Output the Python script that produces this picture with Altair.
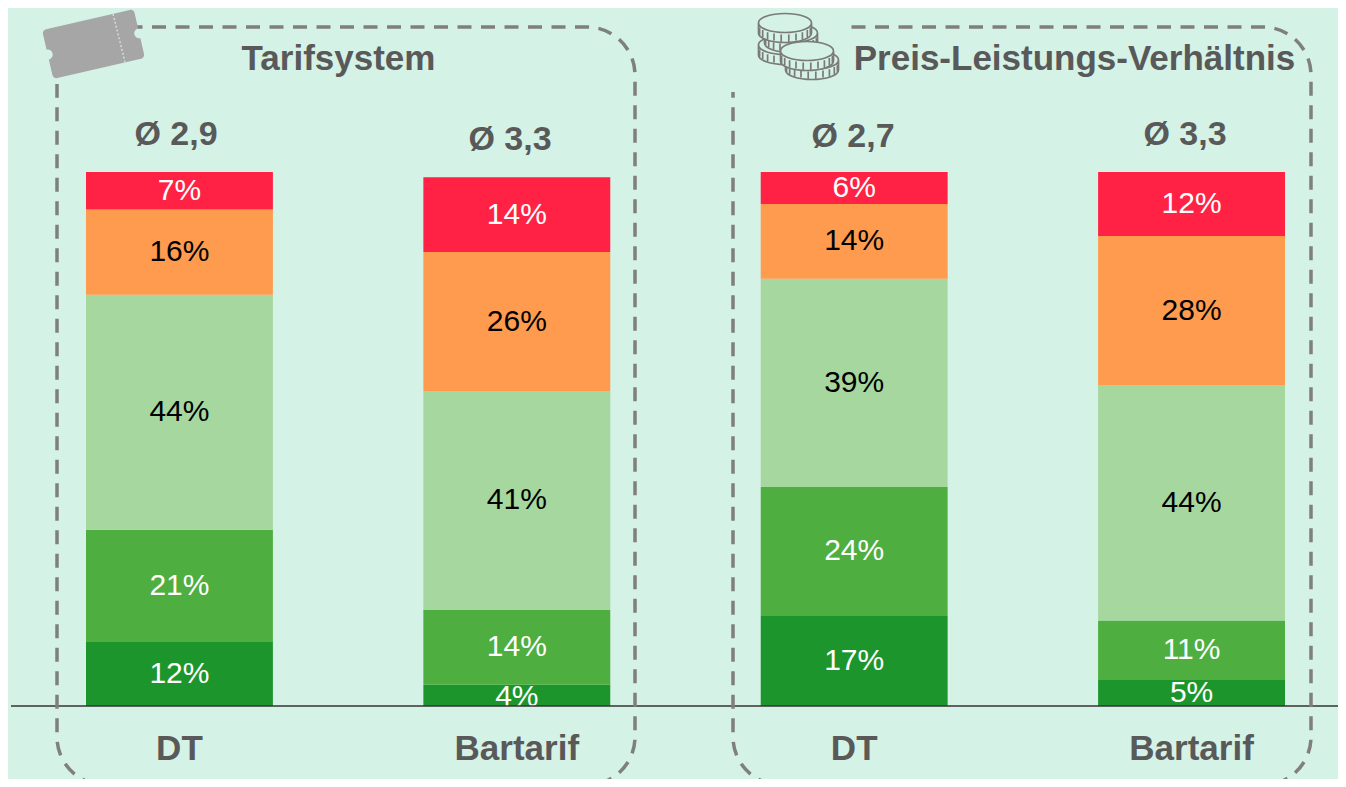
import math
import altair as alt
import pandas as pd

# ---- chart values
bars = ["Tarifsystem|DT", "Tarifsystem|Bartarif", "Preis-Leistung|DT", "Preis-Leistung|Bartarif"]
grades = ["g1", "g2", "g3", "g4", "g5"]
values_tarif_dt = [12, 21, 44, 16, 7]
values_tarif_bar = [4, 14, 41, 26, 14]
values_preis_dt = [17, 24, 39, 14, 6]
values_preis_bar = [5, 11, 44, 28, 12]
grade_colors = ["#1C962C", "#4EAE40", "#A6D79F", "#FF9B4E", "#FF2245"]
label_colors = ["white", "white", "black", "black", "white"]
averages = ["Ø 2,9", "Ø 3,3", "Ø 2,7", "Ø 3,3"]

BG = "#D5F2E6"
TXT = "#595959"
BOX = "#7F7F7F"
FONT = "Liberation Sans"


def px(v):
    return v - 8  # page pixel to chart pixel


rows = []
for bar, vals in zip(bars, [values_tarif_dt, values_tarif_bar, values_preis_dt, values_preis_bar]):
    base = 0
    for g, v, lc in zip(grades, vals, label_colors):
        # the label of a very thin segment sits a little low and is cut by the baseline
        mid = base + v * (0.4 if v < 5 else 0.5)
        rows.append(dict(bar=bar, grade=g, value=v, y0=base, y1=base + v, mid=mid,
                         label=f"{v}%", lc=lc))
        base += v
df = pd.DataFrame(rows)
one = pd.DataFrame({"a": [0]})

x_scale = alt.Scale(domain=bars, range=[px(86), px(1285)], paddingInner=0.446, paddingOuter=0)
y_scale = alt.Scale(domain=[0, 100], range=[px(706), px(172)])

bar_layer = alt.Chart(df).mark_bar().encode(
    x=alt.X("bar:N", scale=x_scale, sort=bars, title=None,
            axis=alt.Axis(domain=False, ticks=False, labelAngle=0, labelFont=FONT, labelFontSize=35,
                          labelFontWeight="bold", labelColor=TXT, labelPadding=25, zindex=1,
                          labelOverlap=False, labelExpr="split(datum.label,'|')[1]")),
    y=alt.Y("y0:Q", scale=y_scale, axis=None),
    y2="y1:Q",
    color=alt.Color("grade:N", scale=alt.Scale(domain=grades, range=grade_colors), legend=None),
)

text_layer = alt.Chart(df).mark_text(font=FONT, fontSize=30, baseline="middle", align="center").encode(
    x=alt.X("bar:N", scale=x_scale, sort=bars, title=None),
    y=alt.Y("mid:Q", scale=y_scale, axis=None),
    text="label:N",
    color=alt.Color("lc:N", scale=None),
)


def rect(x1, y1, x2, y2, **kw):
    return alt.Chart(one).mark_rect(**kw).encode(
        x=alt.value(px(x1)), x2=alt.value(px(x2)), y=alt.value(px(y1)), y2=alt.value(px(y2)))


def label(txt, x, y, size):
    return alt.Chart(one).mark_text(text=txt, font=FONT, fontSize=size, fontWeight="bold", color=TXT,
                                    align="center", baseline="middle").encode(
        x=alt.value(px(x)), y=alt.value(px(y)))


def symbol(path, x, y, fill, stroke=None, width=0, angle=0):
    kw = dict(shape=path, size=4, filled=True, fill=fill, opacity=1, angle=angle)
    if stroke:
        kw.update(stroke=stroke, strokeWidth=width)
    else:
        kw.update(strokeWidth=0)
    return alt.Chart(one).mark_point(**kw).encode(x=alt.value(px(x)), y=alt.value(px(y)))


# ticket icon
L, H, R, N = 47, 25, 4, 5
ticket = (f"M{-L+R},{-H} L{L-R},{-H} A{R},{R} 0 0 1 {L},{-H+R} L{L},{-N} A{N},{N} 0 0 0 {L},{N} "
          f"L{L},{H-R} A{R},{R} 0 0 1 {L-R},{H} L{-L+R},{H} A{R},{R} 0 0 1 {-L},{H-R} "
          f"L{-L},{N} A{N},{N} 0 0 0 {-L},{-N} L{-L},{-H+R} A{R},{R} 0 0 1 {-L+R},{-H} Z")


def coin(rx=26.5, ry=9.5, h=10):
    p = (f"M{-rx},0 L{-rx},{h} A{rx},{ry} 0 0 0 {rx},{h} L{rx},0 A{rx},{ry} 0 0 0 {-rx},0 Z "
         f"M{-rx},0 A{rx},{ry} 0 0 0 {rx},0 ")
    for k in range(1, 11):
        t = math.pi * k / 11
        x, y = rx * math.cos(t), ry * math.sin(t)
        p += f"M{x:.1f},{y+2:.1f} L{x:.1f},{y+h-1:.1f} "
    return p


coins = coin()
coin_layers = [symbol(coins, x, y, BG, "#7A7A7A", 1.7)
               for x, y in [(785, 45), (791, 33), (785, 23), (812, 60), (807, 51)]]

chart = alt.layer(
    bar_layer,
    text_layer,
    rect(0, 707, 1346, 800, color=BG),
    alt.Chart(one).mark_rule(color="#333333", strokeWidth=1.5).encode(
        x=alt.value(px(11)), x2=alt.value(px(1346)), y=alt.value(px(706))),
    rect(57, 27, 635, 785, fill="transparent", stroke=BOX, strokeWidth=3.5, strokeDash=[14, 9.5], cornerRadius=48),
    rect(733, 27, 1311, 785, fill="transparent", stroke=BOX, strokeWidth=3.5, strokeDash=[14, 9.5], cornerRadius=48),
    rect(30, 0, 134, 84, color=BG),
    rect(720, 0, 845, 92, color=BG),
    symbol(ticket, 93.5, 44, "#A6A6A6", angle=347),
    alt.Chart(one).mark_rule(color="#DCEBE4", strokeWidth=1.2, strokeDash=[2, 2]).encode(
        x=alt.value(px(113)), x2=alt.value(px(125)), y=alt.value(px(14)), y2=alt.value(px(62))),
    *coin_layers,
    label("Tarifsystem", 338.5, 59, 35),
    label("Preis-Leistungs-Verhältnis", 1074.5, 59, 35),
    label(averages[0], 176, 135, 34),
    label(averages[1], 510, 140, 34),
    label(averages[2], 853, 137, 34),
    label(averages[3], 1185, 135, 34),
).properties(
    width=1330, height=698, background=BG,
    autosize=alt.AutoSizeParams(type="none"),
    padding={"left": 0, "top": 0, "right": 0, "bottom": 73},
).configure_view(stroke=None)

chart.save("out.html", embed_options={"renderer": "svg", "actions": False})
